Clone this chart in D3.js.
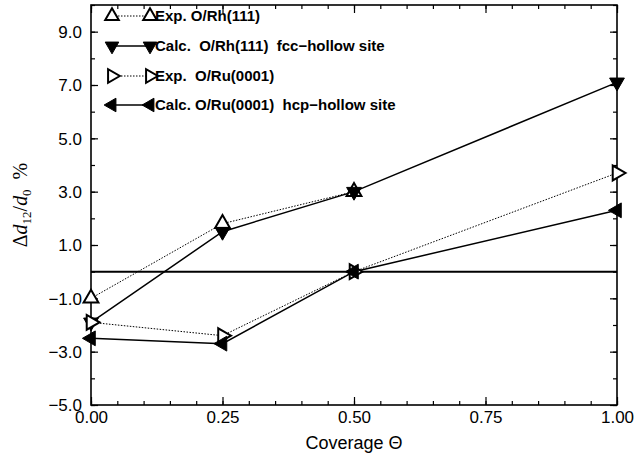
<!DOCTYPE html>
<html>
<head>
<meta charset="utf-8">
<script src="https://cdn.jsdelivr.net/npm/d3@7"></script>
<style>
  body { margin: 0; background: #fff; }
  svg { display: block; }
  .tick text { font-family: "Liberation Sans", Arial, sans-serif; font-size: 17px; fill: #000; }
</style>
</head>
<body>
<div class="chart"></div>
<script>
// values
const coverage = [0, 0.25, 0.5, 1.0];
const expRhX = [0, 0.25, 0.5];
const expRh = [-1.0, 1.8, 3.0];
const calcRh = [-1.9, 1.5, 3.0, 7.1];
const expRu = [-1.9, -2.4, 0.0, 3.7];
const calcRu = [-2.5, -2.7, 0.0, 2.3];

const xMajor = [0, 0.25, 0.5, 0.75, 1.0];
const yMajor = [-5, -3, -1, 1, 3, 5, 7, 9];

const series = [
  {name: 'Exp. O/Rh(111)', xs: expRhX, ys: expRh, shape: 'up', open: true, dotted: true},
  {name: 'Calc.  O/Rh(111)  fcc\u2212hollow site', xs: coverage, ys: calcRh, shape: 'down', open: false, dotted: false},
  {name: 'Exp.  O/Ru(0001)', xs: coverage, ys: expRu, shape: 'right', open: true, dotted: true},
  {name: 'Calc. O/Ru(0001)  hcp\u2212hollow site', xs: coverage, ys: calcRu, shape: 'left', open: false, dotted: false}
];

const W = 636, H = 459;
const margin = {top: 5, right: 19, bottom: 54, left: 91};
const width = W - margin.left - margin.right;
const height = H - margin.top - margin.bottom;

const svg = d3.select('.chart').append('svg')
  .attr('width', W).attr('height', H)
  .append('g')
  .attr('transform', `translate(${margin.left}, ${margin.top})`);

const x = d3.scaleLinear().domain([0, 1]).range([0, width]);
const y = d3.scaleLinear().domain([-5, 10]).range([height, 0]);

const rot = {up: 0, down: 180, right: 90, left: -90};
const tri = d3.symbol().type(d3.symbolTriangle).size(95);
const triLegend = d3.symbol().type(d3.symbolTriangle).size(80);

// minor ticks (no labels)
const xMinor = d3.range(0, 1.0001, 0.05);
const yMinor = d3.range(-5, 10.0001, 1);

svg.append('g').attr('transform', `translate(0,${height})`)
  .call(d3.axisBottom(x).tickValues(xMinor).tickSize(-4).tickFormat(''));
svg.append('g')
  .call(d3.axisTop(x).tickValues(xMinor).tickSize(-4).tickFormat(''));
svg.append('g')
  .call(d3.axisLeft(y).tickValues(yMinor).tickSize(-4).tickFormat(''));
svg.append('g').attr('transform', `translate(${width},0)`)
  .call(d3.axisRight(y).tickValues(yMinor).tickSize(-4).tickFormat(''));

// major ticks
const xAxis = svg.append('g').attr('class', 'axis x-axis')
  .attr('transform', `translate(0,${height})`)
  .call(d3.axisBottom(x).tickValues(xMajor).tickSizeInner(-8).tickSizeOuter(0).tickPadding(6).tickFormat(d3.format('.2f')));
svg.append('g')
  .call(d3.axisTop(x).tickValues(xMajor).tickSize(-8).tickFormat(''));
const yAxis = svg.append('g').attr('class', 'axis y-axis')
  .call(d3.axisLeft(y).tickValues(yMajor).tickSizeInner(-7).tickSizeOuter(0).tickPadding(9)
    .tickFormat(d => d3.format('.1f')(d).replace('-', '\u2212')));
svg.append('g').attr('transform', `translate(${width},0)`)
  .call(d3.axisRight(y).tickValues(yMajor).tickSize(-7).tickFormat(''));

svg.selectAll('.domain').remove();
svg.selectAll('.tick line').attr('stroke', '#000').attr('stroke-width', 1.2);
yAxis.selectAll('.tick text').attr('dy', '0.35em');

// frame
svg.append('rect')
  .attr('width', width).attr('height', height)
  .attr('fill', 'none').attr('stroke', '#000').attr('stroke-width', 1.6);

// zero line
svg.append('line')
  .attr('x1', 0).attr('x2', width)
  .attr('y1', y(0)).attr('y2', y(0))
  .attr('stroke', '#000').attr('stroke-width', 2);

const line = d3.line().x(d => x(d[0])).y(d => y(d[1]));

series.forEach(s => {
  const pts = s.xs.map((v, i) => [v, s.ys[i]]);
  svg.append('path')
    .datum(pts)
    .attr('d', line)
    .attr('fill', 'none')
    .attr('stroke', '#000')
    .attr('stroke-width', s.dotted ? 1 : 1.5)
    .attr('stroke-dasharray', s.dotted ? '1.5,1.5' : null);
});

series.forEach(s => {
  const pts = s.xs.map((v, i) => [v, s.ys[i]]);
  svg.selectAll(null)
    .data(pts)
    .enter()
    .append('path')
    .attr('d', tri)
    .attr('transform', d => `translate(${x(d[0])},${y(d[1])}) rotate(${rot[s.shape]})`)
    .attr('fill', s.open ? '#fff' : '#000')
    .attr('stroke', '#000')
    .attr('stroke-width', s.open ? 2 : 1);
});

// legend
const legend = svg.append('g').attr('class', 'legend');
const lx1 = 21, lx2 = 59, rowY = [11, 41, 71, 100];
series.forEach((s, i) => {
  legend.append('line')
    .attr('x1', lx1).attr('x2', lx2)
    .attr('y1', rowY[i]).attr('y2', rowY[i])
    .attr('stroke', '#000')
    .attr('stroke-width', s.dotted ? 1 : 1.5)
    .attr('stroke-dasharray', s.dotted ? '1.5,1.5' : null);
  [lx1, lx2].forEach(px => {
    legend.append('path')
      .attr('d', triLegend)
      .attr('transform', `translate(${px},${rowY[i]}) rotate(${rot[s.shape]})`)
      .attr('fill', s.open ? '#fff' : '#000')
      .attr('stroke', '#000')
      .attr('stroke-width', s.open ? 2 : 1);
  });
  legend.append('text')
    .attr('x', lx2 + 5)
    .attr('y', rowY[i])
    .attr('dy', '0.36em')
    .attr('font-family', '"Liberation Sans", Arial, sans-serif')
    .attr('font-weight', 'bold')
    .attr('font-size', 15)
    .attr('xml:space', 'preserve')
    .style('white-space', 'pre')
    .text(s.name);
});

// axis titles
svg.append('text')
  .attr('x', width / 2)
  .attr('y', height + 44)
  .attr('text-anchor', 'middle')
  .attr('font-family', '"Liberation Sans", Arial, sans-serif')
  .attr('font-size', 18)
  .text('Coverage \u0398');

const yt = svg.append('text')
  .attr('transform', `translate(${-64},${height / 2}) rotate(-90)`)
  .attr('text-anchor', 'middle')
  .attr('font-family', '"Liberation Serif", "Times New Roman", serif')
  .attr('font-size', 20)
  .style('white-space', 'pre');
yt.append('tspan').text('\u0394');
yt.append('tspan').attr('font-style', 'italic').text('d');
yt.append('tspan').attr('font-size', 13).attr('dy', 4).text('12');
yt.append('tspan').attr('dy', -4).text('/');
yt.append('tspan').attr('font-style', 'italic').text('d');
yt.append('tspan').attr('font-size', 13).attr('dy', 4).text('0');
yt.append('tspan').attr('dy', -4).text('  %');
</script>
</body>
</html>
